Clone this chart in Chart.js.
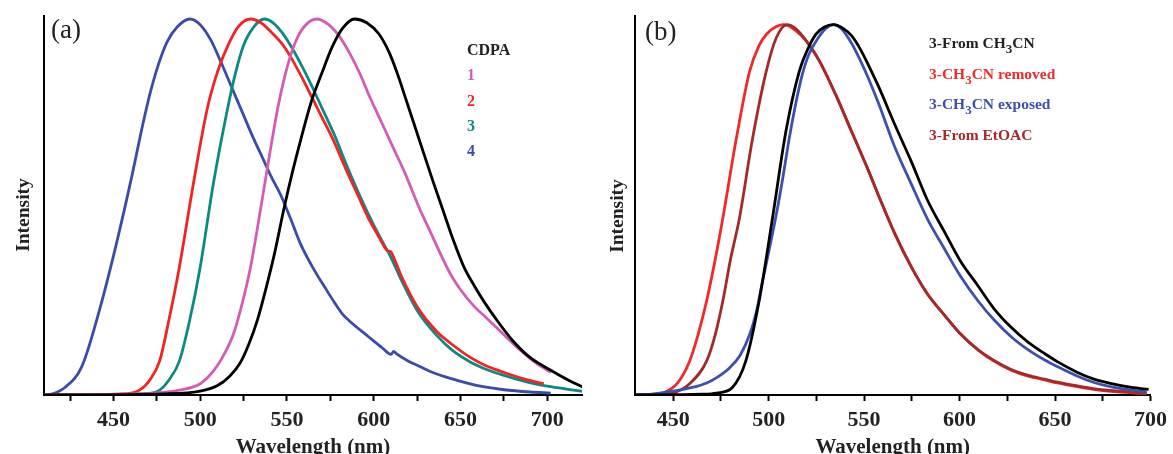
<!DOCTYPE html>
<html>
<head>
<meta charset="utf-8">
<script src="https://cdn.jsdelivr.net/npm/chart.js@4/dist/chart.umd.min.js"></script>
<style>
    body { margin: 0; background: #fff; overflow: hidden; width: 1173px; height: 454px; position: relative; }
    #wrapA { position: absolute; left: 0; top: 0; width: 590px; height: 470px; }
    #wrapB { position: absolute; left: 590px; top: 0; width: 583px; height: 470px; }
</style>
</head>
<body>
<div id="wrapA"><canvas id="panelA"></canvas></div>
<div id="wrapB"><canvas id="panelB"></canvas></div>
<script>
// (a) CDPA emission spectra
const cdpaX = [410, 480, 500, 510, 517, 523, 528, 533, 538, 543, 548, 553, 558, 564, 570, 576, 582, 589, 596, 603, 609, 614, 619, 624, 629, 634, 640, 646, 652, 658, 664, 670, 680, 690, 702, 712, 721];
const cdpaY = [0, 0.003, 0.01, 0.025, 0.05, 0.085, 0.135, 0.20, 0.285, 0.38, 0.49, 0.59, 0.68, 0.78, 0.855, 0.925, 0.975, 1.0, 0.99, 0.96, 0.91, 0.85, 0.78, 0.71, 0.64, 0.57, 0.49, 0.41, 0.34, 0.29, 0.245, 0.205, 0.145, 0.10, 0.066, 0.04, 0.02];
const c1X = [410, 470, 488, 500, 508, 514, 519, 524, 529, 535, 540, 545, 550, 555, 560, 567, 574, 580, 586, 592, 597, 605, 612, 618, 626, 633, 640, 645, 650, 658, 665, 675, 683, 692, 702];
const c1Y = [0, 0.004, 0.013, 0.03, 0.066, 0.11, 0.16, 0.24, 0.34, 0.50, 0.64, 0.77, 0.87, 0.94, 0.98, 1.0, 0.985, 0.955, 0.91, 0.855, 0.80, 0.72, 0.65, 0.59, 0.50, 0.43, 0.36, 0.315, 0.28, 0.235, 0.205, 0.16, 0.125, 0.09, 0.06];
const c2X = [410, 455, 465, 471, 476.6, 482, 488, 496, 504, 510, 516, 522, 529, 535, 541, 547, 552, 558, 564, 570, 577.5, 584, 591, 597, 603, 606, 608, 609.5, 612, 616.5, 625, 636, 645, 655.6, 665, 675, 687, 698];
const c2Y = [0, 0.003, 0.013, 0.04, 0.09, 0.2, 0.34, 0.56, 0.76, 0.86, 0.93, 0.98, 1.0, 0.99, 0.965, 0.935, 0.90, 0.85, 0.795, 0.74, 0.67, 0.60, 0.53, 0.47, 0.42, 0.395, 0.383, 0.382, 0.36, 0.31, 0.235, 0.17, 0.135, 0.10, 0.077, 0.06, 0.042, 0.03];
const c3X = [410, 468, 476.6, 482, 488, 494, 500, 507.5, 515.7, 520, 525, 531, 537, 542, 547, 552, 558, 564, 570, 577.5, 584, 591, 597, 603, 610, 616.5, 625, 636, 645, 655.6, 665, 675, 688, 702, 720];
const c3Y = [0, 0.003, 0.013, 0.04, 0.09, 0.2, 0.34, 0.56, 0.76, 0.85, 0.93, 0.98, 1.0, 0.99, 0.965, 0.93, 0.88, 0.825, 0.765, 0.69, 0.615, 0.54, 0.48, 0.425, 0.365, 0.30, 0.225, 0.16, 0.12, 0.088, 0.068, 0.052, 0.035, 0.022, 0.01];
const c4X = [410, 415, 422, 431.7, 441.6, 451.6, 461, 466, 471, 476, 481, 487, 494, 500, 506, 512, 518, 524, 530, 536, 541, 546.6, 552, 558, 566, 572, 577.5, 582, 586, 597, 605, 610, 611.5, 613, 620, 626.5, 634, 645.7, 655, 663, 675, 690, 702];
const c4Y = [0, 0.003, 0.02, 0.075, 0.22, 0.40, 0.59, 0.70, 0.80, 0.88, 0.94, 0.98, 1.0, 0.985, 0.945, 0.885, 0.82, 0.755, 0.69, 0.63, 0.58, 0.53, 0.47, 0.40, 0.33, 0.285, 0.245, 0.215, 0.197, 0.155, 0.125, 0.108, 0.116, 0.11, 0.09, 0.076, 0.06, 0.042, 0.03, 0.022, 0.014, 0.008, 0.005];
const legendA = ["CDPA", "1", "2", "3", "4"];
const ticksA = [425, 450, 475, 500, 525, 550, 575, 600, 625, 650, 675, 700];
const tickLabelsA = ["", "450", "", "500", "", "550", "", "600", "", "650", "", "700"];

// (b) compound 3 under different conditions
const fromMeCNX = [430, 465, 472.7, 481, 488, 495, 502, 509, 516, 520.5, 524.8, 529, 534, 539, 543.5, 548, 552, 557.6, 566, 574.8, 583, 592.5, 600, 609.7, 618, 627, 636, 644.6, 651.4, 661.8, 670, 679, 690, 699];
const fromMeCNY = [0, 0.002, 0.005, 0.02, 0.09, 0.25, 0.47, 0.70, 0.86, 0.92, 0.96, 0.978, 0.985, 0.975, 0.955, 0.92, 0.88, 0.82, 0.72, 0.62, 0.52, 0.43, 0.36, 0.29, 0.23, 0.18, 0.14, 0.11, 0.088, 0.06, 0.043, 0.031, 0.02, 0.015];
const removedX = [430, 440, 445, 452, 458.6, 463, 467.5, 472, 476, 483, 490, 495, 499, 504, 508, 514, 520, 526.4, 535, 543.5, 552, 557.6, 566, 574.8, 583, 592.5, 600, 609.7, 618, 627, 636, 644.6, 651.4, 661.8, 670, 679, 690, 698];
const removedY = [0, 0.002, 0.006, 0.03, 0.09, 0.16, 0.25, 0.36, 0.47, 0.68, 0.86, 0.93, 0.96, 0.98, 0.985, 0.97, 0.94, 0.89, 0.80, 0.70, 0.60, 0.53, 0.43, 0.34, 0.27, 0.21, 0.165, 0.12, 0.09, 0.066, 0.05, 0.04, 0.032, 0.022, 0.015, 0.01, 0.006, 0.004];
const exposedX = [430, 440, 450, 460, 467.5, 473, 479.5, 485, 490, 493.5, 496.7, 500, 504, 507.5, 510.7, 514, 517.5, 521, 526, 530, 534, 538, 543.5, 548, 552, 557.6, 566, 574.8, 583, 592.5, 600, 609.7, 618, 627, 636, 644.6, 651.4, 661.8, 670, 679, 690, 698];
const exposedY = [0, 0.003, 0.01, 0.02, 0.032, 0.047, 0.072, 0.105, 0.16, 0.22, 0.30, 0.38, 0.48, 0.58, 0.68, 0.77, 0.85, 0.905, 0.95, 0.975, 0.985, 0.975, 0.935, 0.89, 0.845, 0.775, 0.66, 0.56, 0.47, 0.385, 0.32, 0.25, 0.20, 0.155, 0.12, 0.093, 0.075, 0.05, 0.034, 0.022, 0.013, 0.008];
const etoacX = [430, 445, 450, 458.6, 467.5, 472, 476, 480, 484.7, 491.5, 498.7, 504, 509.7, 514, 520, 526.4, 535, 543.5, 552, 557.6, 566, 574.8, 583, 592.5, 600, 609.7, 618, 627, 636, 644.6, 651.4, 661.8, 670, 679, 690, 698];
const etoacY = [0, 0.002, 0.005, 0.03, 0.09, 0.16, 0.25, 0.36, 0.47, 0.68, 0.86, 0.95, 0.985, 0.975, 0.94, 0.89, 0.80, 0.70, 0.60, 0.53, 0.43, 0.34, 0.27, 0.21, 0.165, 0.12, 0.092, 0.068, 0.052, 0.042, 0.034, 0.024, 0.017, 0.012, 0.008, 0.005];
const legendB = ["3-From CH_3CN", "3-CH_3CN removed", "3-CH_3CN exposed", "3-From EtOAC"];
const ticksB = [450, 475, 500, 525, 550, 575, 600, 625, 650, 675, 700];
const tickLabelsB = ["450", "", "500", "", "550", "", "600", "", "650", "", "700"];

const serif = "'Liberation Serif', 'Times New Roman', serif";

function pts(xs, ys) {
    let out = [];
    for (let i = 0; i < xs.length; i++) {
        out.push({x: xs[i], y: ys[i]});
    }
    return out;
}

function line(label, xs, ys, color) {
    return {
        label: label,
        data: pts(xs, ys),
        borderColor: color,
        backgroundColor: color,
        borderWidth: 2.8,
        pointRadius: 0,
        cubicInterpolationMode: "monotone"
    };
}

// text overlay: panel letter, y title, coloured legend ("_3" gives a subscript 3)
const textPlugin = {
    id: "textOverlay",
    afterDraw(chart, args, opts) {
        const ctx = chart.ctx;
        ctx.save();
        ctx.textBaseline = "middle";
        ctx.textAlign = "left";
        ctx.fillStyle = "#222";
        ctx.font = "27px " + serif;
        ctx.fillText(opts.tag, opts.tagX, opts.tagY);

        ctx.save();
        ctx.translate(opts.yTitleX, opts.yTitleY);
        ctx.rotate(-Math.PI / 2);
        ctx.textAlign = "center";
        ctx.font = "bold 19.5px " + serif;
        ctx.fillText("Intensity", 0, 0);
        ctx.restore();

        for (let i = 0; i < opts.items.length; i++) {
            const it = opts.items[i];
            let x = opts.x;
            const y = opts.y + i * opts.step;
            ctx.fillStyle = it.color;
            const parts = it.text.split("_");
            for (let j = 0; j < parts.length; j++) {
                let s = parts[j];
                if (j > 0) {
                    ctx.font = "bold 13px " + serif;
                    ctx.fillText(s[0], x, y + 6);
                    x += ctx.measureText(s[0]).width;
                    s = s.slice(1);
                }
                ctx.font = "bold " + opts.size + "px " + serif;
                ctx.fillText(s, x, y);
                x += ctx.measureText(s).width;
            }
        }
        ctx.restore();
    }
};

function makeOptions(xmin, xmax, tickVals, tickLabels, yWidth, padRight, overlay) {
    return {
        responsive: true,
        maintainAspectRatio: false,
        animation: false,
        layout: {padding: {top: 16, right: padRight, left: 0, bottom: 0}},
        plugins: {legend: {display: false}, tooltip: {enabled: false}, textOverlay: overlay},
        scales: {
            x: {
                type: "linear",
                min: xmin,
                max: xmax,
                afterBuildTicks: s => { s.ticks = tickVals.map(v => ({value: v})); },
                afterFit: s => { s.height = 75; },
                border: {color: "#000", width: 2},
                grid: {
                    drawOnChartArea: false,
                    tickLength: 6,
                    tickWidth: 2,
                    tickColor: "#000"
                },
                ticks: {
                    maxRotation: 0,
                    autoSkip: false,
                    padding: 6,
                    color: "#222",
                    font: {family: serif, size: 22, weight: "bold"},
                    callback: (v, i) => tickLabels[i]
                },
                title: {
                    display: true,
                    text: "Wavelength (nm)",
                    color: "#222",
                    font: {family: serif, size: 21, weight: "bold", lineHeight: 1.2},
                    padding: {top: 0, bottom: 10}
                }
            },
            y: {
                min: 0,
                max: 1.008,
                afterFit: s => { s.width = yWidth; },
                border: {color: "#000", width: 2},
                grid: {display: false},
                ticks: {display: false}
            }
        }
    };
}

function panelA() {
    const colors = ["#222", "#d35cb4", "#f02424", "#0c8a80", "#3b4ca8"];
    const items = legendA.map((t, i) => ({text: t, color: colors[i]}));
    new Chart(document.getElementById("panelA"), {
        type: "line",
        data: {
            datasets: [
                line("CDPA", cdpaX, cdpaY, "#000000"),
                line("1", c1X, c1Y, "#d35cb4"),
                line("2", c2X, c2Y, "#f02424"),
                line("3", c3X, c3Y, "#0c8a80"),
                line("4", c4X, c4Y, "#3b4ca8")
            ]
        },
        options: makeOptions(410, 720, ticksA, tickLabelsA, 44, 8, {
            tag: "(a)", tagX: 51, tagY: 31, yTitleX: 24, yTitleY: 215,
            x: 467, y: 51, step: 25.3, size: 16, items: items
        }),
        plugins: [textPlugin]
    });
}

function panelB() {
    const colors = ["#222", "#f02a2a", "#3d50ad", "#a32a2a"];
    const items = legendB.map((t, i) => ({text: t, color: colors[i]}));
    new Chart(document.getElementById("panelB"), {
        type: "line",
        data: {
            datasets: [
                line("3-From CH3CN", fromMeCNX, fromMeCNY, "#000000"),
                line("3-CH3CN exposed", exposedX, exposedY, "#3d50ad"),
                line("3-From EtOAC", etoacX, etoacY, "#a32a2a"),
                line("3-CH3CN removed", removedX, removedY, "#f02a2a")
            ]
        },
        options: makeOptions(430, 700, ticksB, tickLabelsB, 45, 20, {
            tag: "(b)", tagX: 55, tagY: 33, yTitleX: 28, yTitleY: 216,
            x: 339, y: 44, step: 30.5, size: 15.5, items: items
        }),
        plugins: [textPlugin]
    });
}

window.addEventListener("DOMContentLoaded", () => {
    panelA();
    panelB();
});
</script>
</body>
</html>
